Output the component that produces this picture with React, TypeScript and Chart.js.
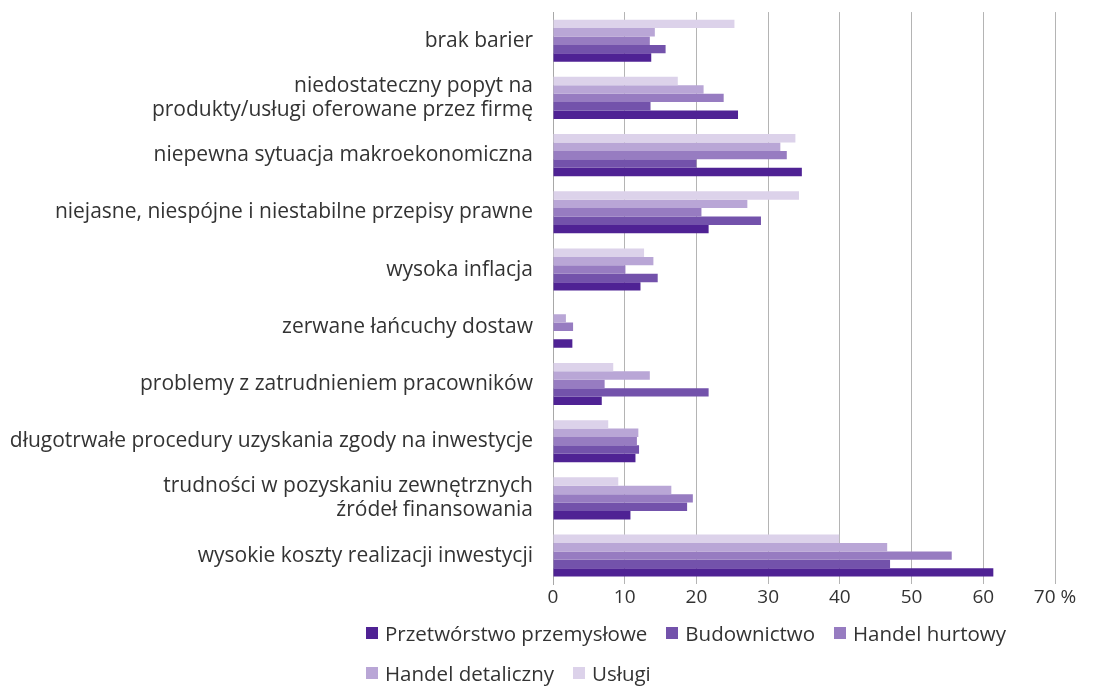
import React, { useEffect, useRef } from "react";
import { Chart, registerables } from "chart.js";

Chart.register(...registerables);

const categories: (string | string[])[] = [
  "brak barier",
  ["niedostateczny popyt na", "produkty/usługi oferowane przez firmę"],
  "niepewna sytuacja makroekonomiczna",
  "niejasne, niespójne i niestabilne przepisy prawne",
  "wysoka inflacja",
  "zerwane łańcuchy dostaw",
  "problemy z zatrudnieniem pracowników",
  "długotrwałe procedury uzyskania zgody na inwestycje",
  ["trudności w pozyskaniu zewnętrznych", "źródeł finansowania"],
  "wysokie koszty realizacji inwestycji",
];

const uslugi = [25.3, 17.4, 33.8, 34.3, 12.7, 0, 8.4, 7.7, 9.1, 39.9];
const handelDetaliczny = [14.2, 21.0, 31.7, 27.1, 14.0, 1.8, 13.5, 11.9, 16.5, 46.6];
const handelHurtowy = [13.5, 23.8, 32.6, 20.7, 10.1, 2.8, 7.2, 11.7, 19.5, 55.6];
const budownictwo = [15.7, 13.6, 20.0, 29.0, 14.6, 0, 21.7, 12.0, 18.7, 47.0];
const przetworstwo = [13.7, 25.8, 34.7, 21.7, 12.2, 2.7, 6.8, 11.5, 10.8, 61.4];

const xTicks = [0, 10, 20, 30, 40, 50, 60, 70];
const xTickLabels = ["0", "10", "20", "30", "40", "50", "60", "70 %"];

const seriesNames = [
  "Przetwórstwo przemysłowe",
  "Budownictwo",
  "Handel hurtowy",
  "Handel detaliczny",
  "Usługi",
];
const seriesColors = ["#4f2294", "#7352ab", "#977cc1", "#b9a6d6", "#dcd2ea"];

const FONT = "'Open Sans', 'Noto Sans', sans-serif";
const TEXT = "#333333";

export default function App() {
  const ref = useRef<HTMLCanvasElement | null>(null);

  useEffect(() => {
    if (!ref.current) return;
    const values = [przetworstwo, budownictwo, handelHurtowy, handelDetaliczny, uslugi];
    const order = [4, 3, 2, 1, 0];
    const chart = new Chart(ref.current, {
      type: "bar",
      data: {
        labels: categories,
        datasets: order.map((i) => ({
          label: seriesNames[i],
          data: values[i],
          backgroundColor: seriesColors[i],
          borderWidth: 0,
          categoryPercentage: 0.735,
          barPercentage: 1,
        })),
      },
      options: {
        indexAxis: "y",
        animation: false,
        responsive: false,
        maintainAspectRatio: false,
        layout: { padding: { top: 0, right: 39, left: 0, bottom: 0 } },
        plugins: {
          legend: { display: false },
          tooltip: { enabled: false },
        },
        scales: {
          x: {
            min: 0,
            max: 70,
            afterBuildTicks: (s: any) => {
              s.ticks = xTicks.map((v) => ({ value: v }));
            },
            ticks: {
              callback: (v: any) => xTickLabels[xTicks.indexOf(Number(v))],
              color: TEXT,
              font: { family: FONT, size: 19 },
              padding: 2,
              maxRotation: 0,
            },
            grid: { color: "#b4b4b4", lineWidth: 1, drawTicks: false },
            border: { display: false },
          },
          y: {
            afterFit: (s: any) => {
              s.width = 553;
            },
            ticks: {
              color: TEXT,
              font: { family: FONT, size: 21, lineHeight: 1.15 },
              padding: 0,
            },
            grid: { display: false, drawTicks: true, tickLength: 20 },
            border: { display: true, color: "#a8a8a8", width: 1 },
          },
        },
      },
    });
    return () => chart.destroy();
  }, []);

  const legendRows = [
    [0, 1, 2],
    [3, 4],
  ];

  return (
    <div
      style={{
        position: "fixed",
        left: 0,
        top: 0,
        width: 1094,
        height: 686,
        background: "#ffffff",
        fontFamily: FONT,
      }}
    >
      <canvas ref={ref} width={1094} height={611} style={{ display: "block", width: 1094, height: 611 }} />
      <div style={{ position: "absolute", left: 366, top: 613 }}>
        {legendRows.map((row, ri) => (
          <div key={ri} style={{ display: "flex", alignItems: "center", height: 40 }}>
            {row.map((i) => (
              <div key={i} style={{ display: "flex", alignItems: "center", marginRight: 19 }}>
                <span
                  style={{
                    display: "inline-block",
                    width: 12,
                    height: 12,
                    background: seriesColors[i],
                    marginRight: 7,
                  }}
                />
                <span style={{ fontSize: 20.5, color: TEXT, whiteSpace: "nowrap" }}>{seriesNames[i]}</span>
              </div>
            ))}
          </div>
        ))}
      </div>
    </div>
  );
}
